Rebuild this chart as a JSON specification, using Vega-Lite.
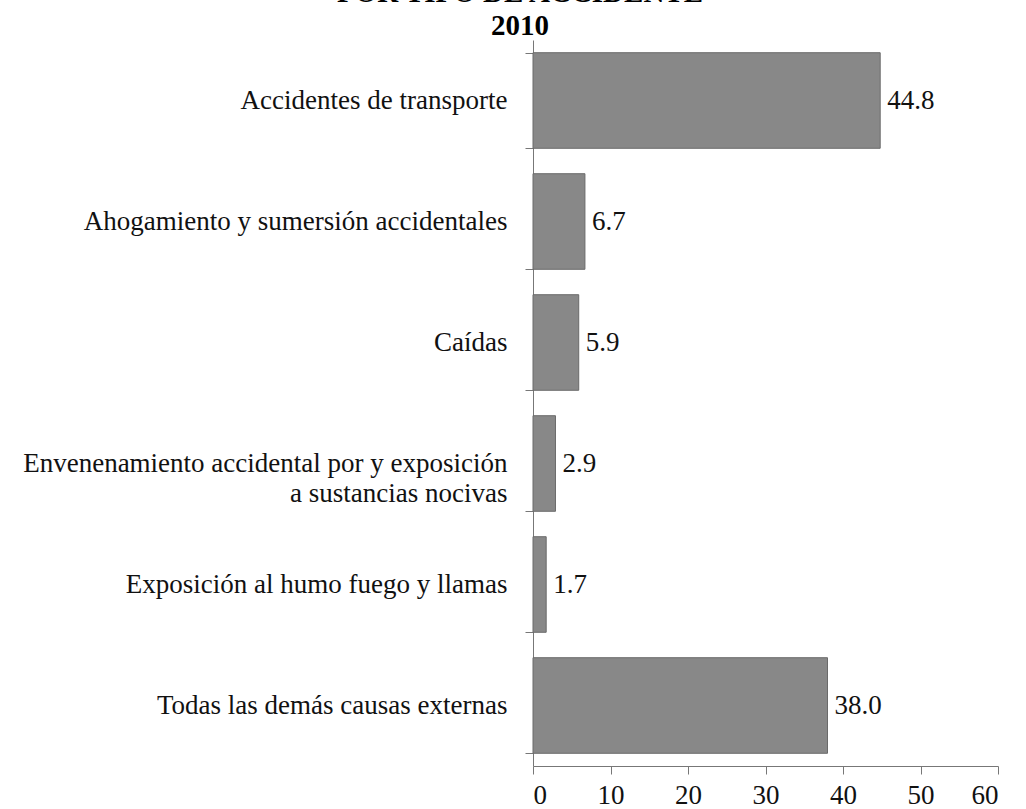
{
  "$schema": "https://vega.github.io/schema/vega-lite/v6.json",
  "width": 465,
  "height": 726,
  "autosize": {"type": "none"},
  "padding": {"left": 533, "top": 40, "right": 28, "bottom": 43},
  "background": "white",
  "title": {
    "text": ["POR TIPO DE ACCIDENTE", "2010"],
    "font": "Liberation Serif",
    "fontSize": 29,
    "fontWeight": "bold",
    "color": "#000",
    "anchor": "start",
    "frame": "group",
    "align": "center",
    "dx": -13,
    "offset": -15,
    "lineHeight": 33
  },
  "data": {
    "values": [
      {"tipo": "Accidentes de transporte", "valor": 44.8},
      {"tipo": "Ahogamiento y sumersión accidentales", "valor": 6.7},
      {"tipo": "Caídas", "valor": 5.9},
      {"tipo": "Envenenamiento accidental por y exposición|a sustancias nocivas ", "valor": 2.9},
      {"tipo": "Exposición al humo fuego y llamas", "valor": 1.7},
      {"tipo": "Todas las demás causas externas", "valor": 38.0}
    ]
  },
  "encoding": {
    "y": {
      "field": "tipo",
      "type": "nominal",
      "sort": null,
      "scale": {"paddingInner": 0.21, "paddingOuter": 0.105},
      "axis": {
        "title": null,
        "labelFont": "Liberation Serif",
        "labelFontSize": 27,
        "labelColor": "#111",
        "labelPadding": 18,
        "labelLimit": 700,
        "labelExpr": "split(datum.label, '|')",
        "labelLineHeight": 30,
        "tickBand": "extent",
        "tickSize": 8,
        "tickColor": "#777",
        "domainColor": "#777",
        "grid": false
      }
    },
    "x": {
      "field": "valor",
      "type": "quantitative",
      "scale": {"domain": [0, 60], "nice": false},
      "axis": {
        "title": null,
        "values": [0, 10, 20, 30, 40, 50, 60],
        "labelFont": "Liberation Serif",
        "labelFontSize": 27,
        "labelColor": "#111",
        "labelPadding": 8,
        "tickSize": 8,
        "tickColor": "#777",
        "domainColor": "#777",
        "grid": false
      }
    }
  },
  "layer": [
    {
      "mark": {"type": "bar", "color": "#888888", "stroke": "#6a6a6a", "strokeWidth": 1}
    },
    {
      "mark": {"type": "text", "align": "left", "baseline": "middle", "dx": 7, "font": "Liberation Serif", "fontSize": 27, "color": "#111"},
      "encoding": {"text": {"field": "valor", "type": "quantitative", "format": ".1f"}}
    }
  ],
  "config": {"view": {"stroke": null}}
}
